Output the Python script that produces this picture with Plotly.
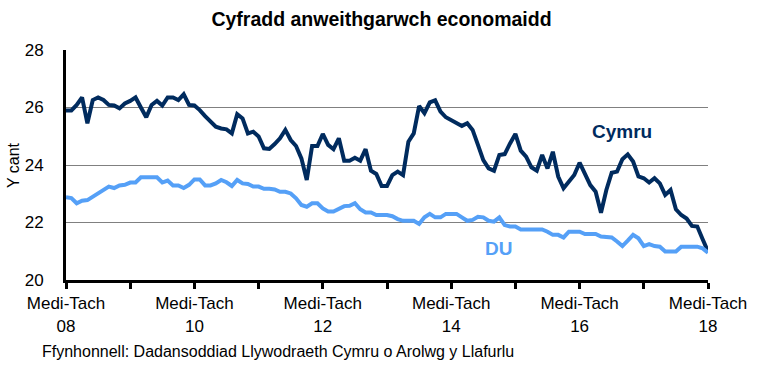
import plotly.graph_objects as go

months = ["Ion", "Chwe", "Maw", "Ebr", "Mai", "Meh", "Gor", "Awst", "Medi", "Hyd", "Tach", "Rhag"]
# rolling quarters from Medi-Tach 2008 to Medi-Tach 2018
periods = []
for k in range(121):
    m0 = (8 + k) % 12
    yr = 2008 + (8 + k) // 12
    periods.append(f"{months[m0]}-{months[(m0 + 2) % 12]} {str(yr)[2:]}")

cymru = [25.9, 25.9, 26.09, 26.35, 25.45, 26.26, 26.35, 26.26, 26.09, 26.07,
         25.97, 26.14, 26.23, 26.35, 26.0, 25.66, 26.09, 26.23, 26.07, 26.35,
         26.35, 26.26, 26.46, 26.09, 26.07, 25.91, 25.7, 25.51, 25.33, 25.27,
         25.24, 25.1, 25.77, 25.62, 25.1, 25.16, 24.99, 24.58, 24.56, 24.73,
         24.93, 25.22, 24.87, 24.66, 24.23, 23.48, 24.66, 24.66, 25.08, 24.7,
         24.55, 24.93, 24.15, 24.15, 24.25, 24.15, 24.55, 23.8, 23.69, 23.27,
         23.27, 23.65, 23.77, 23.65, 24.81, 25.1, 26.05, 25.8, 26.18, 26.25,
         25.86, 25.66, 25.57, 25.47, 25.36, 25.45, 25.22, 24.7, 24.17, 23.88,
         23.8, 24.35, 24.38, 24.75, 25.08, 24.5, 24.29, 23.92, 23.8, 24.35,
         23.88, 24.46, 23.6, 23.19, 23.42, 23.65, 24.08, 23.71, 23.3, 23.07,
         22.34, 23.13, 23.73, 23.77, 24.2, 24.37, 24.12, 23.6, 23.54, 23.39,
         23.54, 23.36, 22.96, 23.13, 22.46, 22.26, 22.14, 21.88, 21.86, 21.42,
         20.99]

du = [22.88, 22.85, 22.67, 22.76, 22.78, 22.9, 23.01, 23.1, 23.25, 23.2,
      23.29, 23.31, 23.39, 23.39, 23.57, 23.57, 23.57, 23.57, 23.39, 23.46,
      23.29, 23.29, 23.2, 23.31, 23.5, 23.5, 23.29, 23.29, 23.36, 23.48,
      23.4, 23.27, 23.48, 23.36, 23.34, 23.25, 23.25, 23.17, 23.17, 23.15,
      23.07, 23.07, 23.01, 22.84, 22.61, 22.55, 22.67, 22.67, 22.49, 22.38,
      22.38, 22.49, 22.57, 22.58, 22.67, 22.46, 22.35, 22.35, 22.26, 22.26,
      22.26, 22.22, 22.12, 22.06, 22.06, 22.06, 21.95, 22.18, 22.3, 22.18,
      22.18, 22.3, 22.3, 22.3, 22.18, 22.06, 22.09, 22.2, 22.18, 22.06,
      22.03, 22.18, 21.91, 21.86, 21.86, 21.76, 21.76, 21.76, 21.76, 21.76,
      21.68, 21.57, 21.57, 21.48, 21.68, 21.68, 21.68, 21.6, 21.6, 21.6,
      21.51, 21.48, 21.48, 21.34, 21.18, 21.37, 21.57, 21.45, 21.18, 21.25,
      21.18, 21.16, 20.99, 20.99, 20.99, 21.16, 21.16, 21.16, 21.16, 21.1,
      20.95]

y_ticks = [20, 22, 24, 26, 28]

NAVY = "#002B5E"
LIGHT = "#55A0F7"
FONT = "Liberation Sans, Arial, sans-serif"

xidx = list(range(len(periods)))
tickvals = xidx[::12]
ticktext = [periods[i].replace(" ", "<br>") if i % 24 == 0 else "" for i in tickvals]

fig = go.Figure()
fig.add_trace(go.Scatter(x=xidx, y=cymru, mode="lines", name="Cymru",
                         line=dict(color=NAVY, width=4), customdata=periods,
                         hovertemplate="%{customdata}: %{y}<extra>Cymru</extra>"))
fig.add_trace(go.Scatter(x=xidx, y=du, mode="lines", name="DU",
                         line=dict(color=LIGHT, width=4), customdata=periods,
                         hovertemplate="%{customdata}: %{y}<extra>DU</extra>"))

fig.update_layout(
    width=763, height=376,
    margin=dict(l=66, r=55, t=50, b=96),
    paper_bgcolor="white", plot_bgcolor="white",
    showlegend=False,
    font=dict(family=FONT, size=16, color="black"),
    title=dict(text="<b>Cyfradd anweithgarwch economaidd</b>",
               x=0.5, xanchor="center", y=1 - 19 / 376, yanchor="middle",
               font=dict(family=FONT, size=19.5, color="black")),
)

fig.update_xaxes(range=[0, 120], tickmode="array", tickvals=tickvals, ticktext=ticktext,
                 ticks="outside", ticklen=6, tickwidth=3, tickcolor="black",
                 showline=True, linecolor="black", linewidth=3,
                 showgrid=False, zeroline=False, automargin=False,
                 tickfont=dict(family=FONT, size=17, color="black"))
fig.update_yaxes(range=[20, 28], tickmode="array", tickvals=y_ticks,
                 ticks="", showline=True, linecolor="black", linewidth=3,
                 showgrid=True, gridcolor="#808080", gridwidth=1, zeroline=False,
                 ticklabelstandoff=16, automargin=False,
                 tickfont=dict(family=FONT, size=17, color="black"))

fig.add_annotation(text="<b>Cymru</b>", x=104, y=25.15, xref="x", yref="y",
                   showarrow=False, font=dict(family=FONT, size=19, color=NAVY))
fig.add_annotation(text="<b>DU</b>", x=80.8, y=21.1, xref="x", yref="y",
                   showarrow=False, font=dict(family=FONT, size=19, color=LIGHT))
fig.add_annotation(text="Y cant", textangle=-90, xref="paper", yref="paper",
                   x=0, y=0.5, xanchor="center", yanchor="middle", xshift=-53,
                   showarrow=False, font=dict(family=FONT, size=16, color="black"))
fig.add_annotation(text="Ffynhonnell: Dadansoddiad Llywodraeth Cymru o Arolwg y Llafurlu",
                   xref="paper", yref="paper", x=0, y=-0.31, xanchor="left",
                   yanchor="middle", xshift=-26, showarrow=False,
                   font=dict(family=FONT, size=16, color="black"))

fig.write_html("out.html", config={"displayModeBar": False},
               post_script="document.body.style.margin='0';")
